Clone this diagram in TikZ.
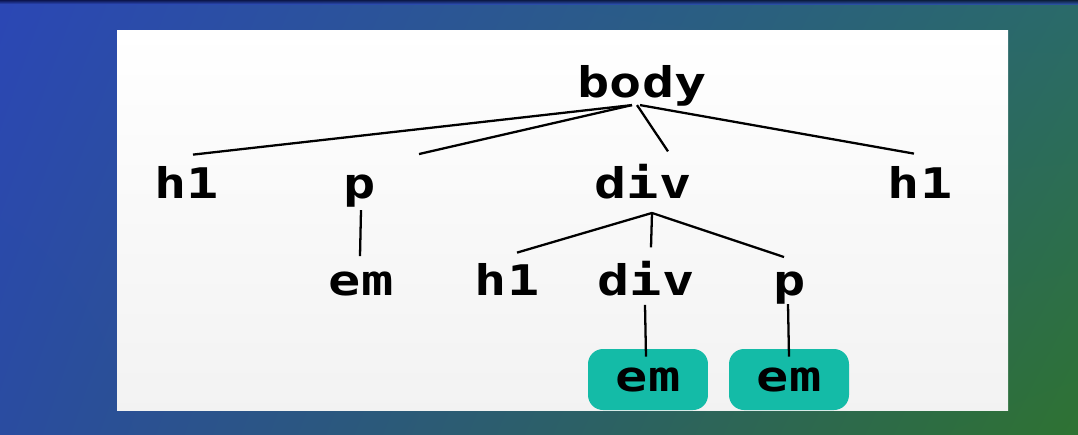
\documentclass[tikz,border=0pt]{standalone}
\usepackage{fontspec}
\usetikzlibrary{calc, positioning, shadings}
\newfontfamily\tagfont[FakeStretch=1.27, BoldFont={DejaVu Sans Mono Bold}]{DejaVu Sans Mono}
\definecolor{fondoA}{HTML}{2B47B5}
\definecolor{fondoB}{HTML}{2A4CA0}
\definecolor{fondoC}{HTML}{2A6A6A}
\definecolor{fondoD}{HTML}{2E7232}
\definecolor{turquesa}{HTML}{14BBA7}
\tikzset{
    etiqueta/.style={font=\tagfont\bfseries\fontsize{24}{28}\selectfont, inner sep=0pt, anchor=base},
    resaltado/.style={etiqueta, anchor=center, fill=turquesa, rounded corners=0.3cm, minimum width=2.4cm, minimum height=1.22cm},
    rama/.style={line width=1.3pt},
}

\begin{document}
\begin{tikzpicture}[x=0.02cm, y=-0.02cm]
\useasboundingbox (0,0) rectangle (1078,434);
\shade[upper left=fondoA, lower left=fondoB, upper right=fondoC, lower right=fondoD] (0,0) rectangle (1078,434);
\shade[top color=black!85!blue, bottom color=fondoA, opacity=0.7] (0,0) rectangle (1078,4);
\shade[top color=white, bottom color=black!5] (117,30) rectangle (1008,410);
\node[etiqueta] (body) at (642,97) {body};
\node[etiqueta] (h1a) at (187,198) {h1};
\node[etiqueta] (pa) at (360,198) {p};
\node[etiqueta] (diva) at (643,198) {div};
\node[etiqueta] (h1b) at (920,198) {h1};
\node[etiqueta] (ema) at (361,295) {em};
\node[etiqueta] (h1c) at (507,295) {h1};
\node[etiqueta] (divb) at (646,295) {div};
\node[etiqueta] (pb) at (790,295) {p};
\node[resaltado] (emb) at (648,379.5) {em};
\node[resaltado] (emc) at (789,379.5) {em};
\draw[rama] ($(body.south)+(-10,-1)$) -- ($(h1a.north)+(6,-11)$);
\draw[rama] ($(body.south)+(-10,-1)$) -- ($(pa.north)+(59,-20)$);
\draw[rama] ($(body.south)+(-5,-1)$) -- ($(diva.north)+(25,-12)$);
\draw[rama] ($(body.south)+(-2,-1)$) -- ($(h1b.north)+(-6,-12)$);
\draw[rama] ($(pa.south)+(1,3)$) -- ($(ema.north)+(-1,-15)$);
\draw[rama] ($(diva.south)+(9,14)$) -- ($(h1c.north)+(10,-10)$);
\draw[rama] ($(diva.south)+(9,14)$) -- ($(divb.north)+(5,-13)$);
\draw[rama] ($(diva.south)+(9,14)$) -- ($(pb.north)+(-6,-14)$);
\draw[rama] ($(divb.south)+(-1,9)$) -- ($(emb.north)+(-2,8)$);
\draw[rama] ($(pb.south)+(-2,0)$) -- ($(emc.north)+(0,8)$);
\end{tikzpicture}
\end{document}
